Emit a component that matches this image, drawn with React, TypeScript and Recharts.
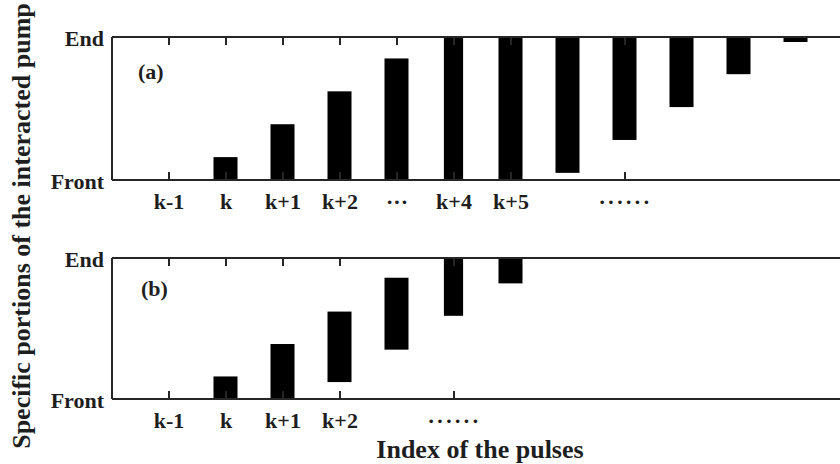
import { Bar, BarChart, XAxis, YAxis } from "recharts";

// pulse slots: -1 .. 12 on the x scale, k-1 sits at slot 0
const slotsA = [1, 2, 3, 4, 5, 6, 7, 8, 9, 10, 11];
const lowA = [0, 0, 0, 0, 0, 0, 0.05, 0.28, 0.51, 0.74, 0.965];
const highA = [0.16, 0.39, 0.62, 0.85, 1, 1, 1, 1, 1, 1, 1];

const slotsB = [1, 2, 3, 4, 5, 6];
const lowB = [0, 0, 0.12, 0.35, 0.59, 0.82];
const highB = [0.16, 0.39, 0.62, 0.86, 1, 1];

const tickSlotsA = [0, 1, 2, 3, 4, 5, 6, 8];
const tickLabelsA = ["k-1", "k", "k+1", "k+2", "\u00B7\u00B7\u00B7", "k+4", "k+5", "\u00B7\u00B7\u00B7\u00B7\u00B7\u00B7"];
const tickSlotsB = [0, 1, 2, 3, 5];
const tickLabelsB = ["k-1", "k", "k+1", "k+2", "\u00B7\u00B7\u00B7\u00B7\u00B7\u00B7"];

const yTicks = [0, 1];
const yLabels = ["Front", "End"];

const FONT = "'Liberation Serif', 'Times New Roman', serif";
const INK = "#1e1e1e";
const TICK_INK = "#262626";
const AXIS = { stroke: "#262626", strokeWidth: 2 };
const NARROW_SLOT = 5;
const CHART_W = 860;
const HEAD = 37;
const FOOT = 50;

function PulseBar(props: any) {
  const { x, y, width, height, payload } = props;
  if (!width || !height) return null;
  const w = payload.slot === NARROW_SLOT ? width * 0.8 : width;
  const top = height < 0 ? y + height : y;
  return <rect x={x + (width - w) / 2} y={top} width={w} height={Math.abs(height)} fill="#000" />;
}

// with tickSize 0 and tickMargin 0, y is the axis line itself
function BottomTick(props: any) {
  const { x, y, payload, slots, labels } = props;
  const label = labels[slots.indexOf(payload.value)] ?? "";
  const dotted = label.startsWith("\u00B7");
  return (
    <g>
      <line x1={x} x2={x} y1={y} y2={y - 8} stroke={TICK_INK} strokeWidth={2} />
      <text
        x={x}
        y={y + 29}
        textAnchor="middle"
        fontFamily={FONT}
        fontWeight="bold"
        fontSize={22}
        fill={INK}
        letterSpacing={dotted && label.length > 3 ? 1.5 : 0}
      >
        {label}
      </text>
    </g>
  );
}

function TopTick(props: any) {
  const { x, y } = props;
  return <line x1={x} x2={x} y1={y} y2={y + 8} stroke={TICK_INK} strokeWidth={2} />;
}

function LeftTick(props: any) {
  const { x, y, payload } = props;
  return (
    <text
      x={x - 8}
      y={y + 9}
      textAnchor="end"
      fontFamily={FONT}
      fontWeight="bold"
      fontSize={22}
      fill={INK}
    >
      {yLabels[yTicks.indexOf(payload.value)]}
    </text>
  );
}

function Panel({
  slots,
  low,
  high,
  tickSlots,
  tickLabels,
  plotTop,
  plotBottom,
}: {
  slots: number[];
  low: number[];
  high: number[];
  tickSlots: number[];
  tickLabels: string[];
  plotTop: number;
  plotBottom: number;
}) {
  const rows = slots.map((slot, i) => ({ slot, span: [low[i], high[i]] }));
  const height = plotBottom - plotTop + HEAD + FOOT;
  return (
    <div style={{ position: "absolute", left: 0, top: plotTop - HEAD }}>
      <BarChart
        width={CHART_W}
        height={height}
        data={rows}
        margin={{ top: HEAD - 1, right: CHART_W - 853, bottom: FOOT - 1, left: 0 }}
      >
        <XAxis
          dataKey="slot"
          type="number"
          domain={[-1, 12]}
          ticks={tickSlots}
          interval={0}
          height={1}
          tickSize={0}
          tickMargin={0}
          axisLine={AXIS}
          tickLine={false}
          tick={(p: any) => <BottomTick {...p} slots={tickSlots} labels={tickLabels} />}
        />
        <XAxis
          xAxisId="top"
          orientation="top"
          dataKey="slot"
          type="number"
          domain={[-1, 12]}
          ticks={tickSlots}
          interval={0}
          height={1}
          tickSize={0}
          tickMargin={0}
          axisLine={AXIS}
          tickLine={false}
          tick={(p: any) => <TopTick {...p} />}
        />
        <YAxis
          type="number"
          domain={[0, 1]}
          ticks={yTicks}
          interval={0}
          width={112}
          tickSize={0}
          tickMargin={0}
          axisLine={AXIS}
          tickLine={false}
          tick={(p: any) => <LeftTick {...p} />}
        />
        <Bar dataKey="span" barSize={24} isAnimationActive={false} shape={(p: any) => <PulseBar {...p} />} />
      </BarChart>
    </div>
  );
}

export default function App() {
  return (
    <div
      style={{
        position: "absolute",
        left: 0,
        top: 0,
        width: 840,
        height: 464,
        overflow: "hidden",
        background: "#fff",
      }}
    >
      <Panel
        slots={slotsA}
        low={lowA}
        high={highA}
        tickSlots={tickSlotsA}
        tickLabels={tickLabelsA}
        plotTop={37}
        plotBottom={180}
      />
      <Panel
        slots={slotsB}
        low={lowB}
        high={highB}
        tickSlots={tickSlotsB}
        tickLabels={tickLabelsB}
        plotTop={258}
        plotBottom={399}
      />
      <svg
        width={840}
        height={464}
        style={{ position: "absolute", left: 0, top: 0, pointerEvents: "none" }}
      >
        <g fontFamily={FONT} fontWeight="bold" fill={INK}>
          <text transform="translate(30,226) rotate(-90)" textAnchor="middle" fontSize={26}>
            Specific portions of the interacted pump
          </text>
          <text x={480} y={458} textAnchor="middle" fontSize={26}>
            Index of the pulses
          </text>
          <text x={138} y={79} fontSize={22}>
            (a)
          </text>
          <text x={141} y={296} fontSize={22}>
            (b)
          </text>
        </g>
      </svg>
    </div>
  );
}
